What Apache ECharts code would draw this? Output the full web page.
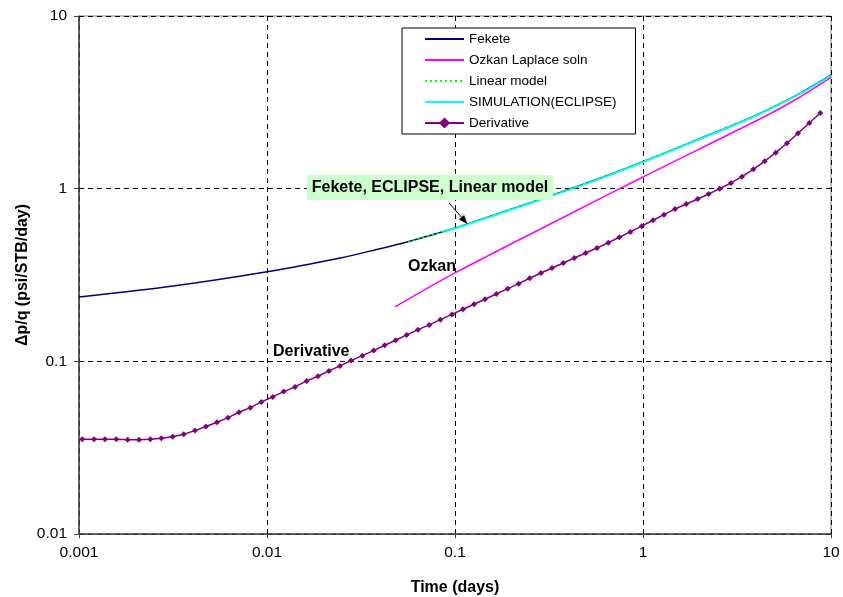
<!DOCTYPE html>
<html>
<head>
<meta charset="utf-8">
<script src="https://cdn.jsdelivr.net/npm/echarts@6/dist/echarts.min.js"></script>
<style>
  html, body { margin: 0; padding: 0; background: #fff; }
  #chart { width: 843px; height: 597px; }
</style>
</head>
<body>
<div id="chart"></div>
<script>
// Normalised pressure drop vs. time, log-log
const FONT = '"Liberation Sans", Arial, sans-serif';

const xTicks = [0.001, 0.01, 0.1, 1, 10];
const yTicks = [0.01, 0.1, 1, 10];

// Fekete analytical solution
const feketeTime = [0.001, 0.00324, 0.01, 0.02495, 0.03754, 0.05623, 0.1, 0.1884, 0.3321, 0.5906, 1, 1.93, 4.025, 6.84, 10];
const feketeVal  = [0.236, 0.2744, 0.3307, 0.3986, 0.4417, 0.4932, 0.5922, 0.7458, 0.9194, 1.149, 1.433, 1.914, 2.672, 3.567, 4.553];

// Ozkan Laplace-space solution
const ozkanTime = [0.04797, 0.1, 0.399, 1, 4.55, 6.84, 10];
const ozkanVal  = [0.2065, 0.325, 0.704, 1.169, 2.654, 3.396, 4.405];

// Linear model
const linearTime = [0.05623, 0.1, 0.1884, 0.3321, 0.5906, 1, 1.93, 4.025, 6.84, 10];
const linearVal  = [0.4932, 0.5922, 0.7458, 0.9194, 1.149, 1.433, 1.914, 2.672, 3.567, 4.553];

// Reservoir simulation (ECLIPSE)
const eclipseTime = [0.0849, 0.1, 0.1884, 0.3321, 0.5906, 1, 1.93, 4.025, 6.84, 10];
const eclipseVal  = [0.566, 0.589, 0.741, 0.913, 1.141, 1.424, 1.902, 2.655, 3.545, 4.525];

// Pressure derivative
const derivTime = [
  0.001041, 0.001202, 0.001375, 0.001579, 0.001816, 0.002085, 0.002395, 0.002741, 0.003151, 0.003604,
  0.00414, 0.004737, 0.00542, 0.006203, 0.007097, 0.00815, 0.009327, 0.01072, 0.01227, 0.01409,
  0.01626, 0.01867, 0.02137, 0.02445, 0.02797, 0.03213, 0.03694, 0.04228, 0.04836, 0.05534,
  0.06356, 0.07302, 0.08353, 0.09638, 0.1103, 0.1262, 0.1444, 0.1659, 0.1907, 0.2182,
  0.2496, 0.2867, 0.3281, 0.3769, 0.4311, 0.4956, 0.5693, 0.6537, 0.748, 0.8558,
  0.9842, 1.130, 1.293, 1.480, 1.700, 1.954, 2.236, 2.559, 2.938, 3.362,
  3.861, 4.439, 5.080, 5.835, 6.676, 7.666, 8.774
];
const derivVal = [
  0.0354, 0.0354, 0.0354, 0.0354, 0.0352, 0.0352, 0.0354, 0.0359, 0.0366, 0.0378,
  0.0397, 0.0419, 0.0444, 0.0472, 0.0507, 0.0539, 0.0582, 0.0622, 0.0668, 0.0711,
  0.077, 0.082, 0.088, 0.0941, 0.101, 0.1079, 0.1154, 0.124, 0.1325, 0.1422,
  0.1526, 0.1625, 0.1744, 0.1869, 0.2003, 0.2141, 0.2288, 0.2456, 0.2636, 0.2818,
  0.3028, 0.325, 0.3473, 0.3713, 0.3969, 0.4243, 0.4535, 0.4868, 0.5231, 0.5616,
  0.6064, 0.6562, 0.7071, 0.763, 0.8157, 0.8718, 0.9318, 1.0, 1.079, 1.173,
  1.295, 1.441, 1.616, 1.832, 2.093, 2.402, 2.744
];

const seriesNames = ['Fekete', 'Ozkan Laplace soln', 'Linear model', 'SIMULATION(ECLIPSE)', 'Derivative'];

const zip = (xs, ys) => xs.map((x, i) => [x, ys[i]]);
const fmt = v => String(parseFloat(Number(v).toPrecision(6)));

const chart = echarts.init(document.getElementById('chart'), null, { renderer: 'canvas' });

const dashed = { type: [5, 4], color: '#000', width: 1 };

// legend entries: plain lines for the curves, line + marker for the derivative
const legendData = seriesNames.map((name, i) =>
  i < 4 ? { name, itemStyle: { opacity: 0 } } : { name }
);

const option = {
  animation: false,
  backgroundColor: '#fff',
  textStyle: { fontFamily: FONT },
  grid: {
    left: 79, right: 12, top: 16, bottom: 63,
    containLabel: false, outerBoundsMode: 'none',
    show: true, borderColor: '#808080', borderWidth: 1, backgroundColor: '#fff'
  },
  xAxis: {
    type: 'log', logBase: 10,
    min: xTicks[0], max: xTicks[xTicks.length - 1],
    name: 'Time (days)', nameLocation: 'middle', nameGap: 46,
    nameTextStyle: { fontFamily: FONT, fontSize: 16, fontWeight: 'bold', color: '#000' },
    axisLine: { show: true, lineStyle: { color: '#404040', width: 1.5 } },
    axisTick: { show: true, inside: false, length: 4, lineStyle: { color: '#404040' } },
    axisLabel: { formatter: fmt, fontSize: 15.5, color: '#000', margin: 11, fontFamily: FONT },
    splitLine: { show: true, lineStyle: dashed },
    minorTick: { show: false }, minorSplitLine: { show: false }
  },
  yAxis: {
    type: 'log', logBase: 10,
    min: yTicks[0], max: yTicks[yTicks.length - 1],
    name: 'Δp/q (psi/STB/day)', nameLocation: 'middle', nameGap: 48, nameRotate: 90,
    nameMoveOverlap: false,
    nameTextStyle: { fontFamily: FONT, fontSize: 16, fontWeight: 'bold', color: '#000' },
    axisLine: { show: true, lineStyle: { color: '#404040', width: 1.5 } },
    axisTick: { show: true, inside: false, length: 5, lineStyle: { color: '#404040' } },
    axisLabel: { formatter: fmt, fontSize: 15.5, color: '#000', margin: 12, fontFamily: FONT },
    splitLine: { show: true, lineStyle: dashed },
    minorTick: { show: false }, minorSplitLine: { show: false }
  },
  legend: {
    data: legendData,
    orient: 'vertical',
    left: 402, top: 28,
    padding: [4, 19, 4, 22],
    itemWidth: 39, itemHeight: 14, itemGap: 7,
    backgroundColor: '#fff',
    borderColor: '#000', borderWidth: 1, borderRadius: 0,
    textStyle: { fontFamily: FONT, fontSize: 13.5, color: '#000' }
  },
  series: [
    {
      name: seriesNames[0], type: 'line', data: zip(feketeTime, feketeVal),
      smooth: 0.3, symbol: 'none', lineStyle: { color: '#000080', width: 1.5 },
      itemStyle: { color: '#000080' }, z: 2
    },
    {
      name: seriesNames[1], type: 'line', data: zip(ozkanTime, ozkanVal),
      smooth: 0.3, symbol: 'none', lineStyle: { color: '#ff00ff', width: 1.5 },
      itemStyle: { color: '#ff00ff' }, z: 3
    },
    {
      name: seriesNames[2], type: 'line', data: zip(linearTime, linearVal),
      smooth: 0.3, symbol: 'none', lineStyle: { color: '#00ff00', width: 2, type: [2, 3] },
      itemStyle: { color: '#00ff00' }, z: 4
    },
    {
      name: seriesNames[3], type: 'line', data: zip(eclipseTime, eclipseVal),
      smooth: 0.3, symbol: 'none', lineStyle: { color: '#00ffff', width: 1.8 },
      itemStyle: { color: '#00ffff' }, z: 5
    },
    {
      name: seriesNames[4], type: 'line', data: zip(derivTime, derivVal),
      symbol: 'diamond', symbolSize: 6, showSymbol: true,
      lineStyle: { color: '#800080', width: 1.5 },
      itemStyle: { color: '#800080' }, z: 6
    }
  ]
};

chart.setOption(option);

// Callout labels and the arrow that points at the overlapping curves
const tip = [467.5, 224];
const tail = [449, 203];
const dx = tip[0] - tail[0], dy = tip[1] - tail[1];
const len = Math.hypot(dx, dy);
const ux = dx / len, uy = dy / len;
const headLen = 9, headHalf = 3.5;
const base = [tip[0] - ux * headLen, tip[1] - uy * headLen];

chart.setOption({
  graphic: [
    {
      type: 'rect', z: 100,
      shape: { x: 307, y: 175, width: 246, height: 25 },
      style: { fill: '#ccffcc' }
    },
    {
      type: 'text', z: 101, x: 430, y: 188,
      style: {
        text: 'Fekete, ECLIPSE, Linear model', fill: '#000',
        font: 'bold 16px ' + FONT, textAlign: 'center', textVerticalAlign: 'middle'
      }
    },
    {
      type: 'line', z: 101,
      shape: { x1: tail[0], y1: tail[1], x2: base[0], y2: base[1] },
      style: { stroke: '#000', lineWidth: 1 }
    },
    {
      type: 'polygon', z: 101,
      shape: {
        points: [
          tip,
          [base[0] - uy * headHalf, base[1] + ux * headHalf],
          [base[0] + uy * headHalf, base[1] - ux * headHalf]
        ]
      },
      style: { fill: '#000' }
    },
    {
      type: 'text', z: 101, x: 408, y: 267,
      style: {
        text: 'Ozkan', fill: '#000', font: 'bold 16px ' + FONT,
        textAlign: 'left', textVerticalAlign: 'middle'
      }
    },
    {
      type: 'text', z: 101, x: 273, y: 352,
      style: {
        text: 'Derivative', fill: '#000', font: 'bold 16px ' + FONT,
        textAlign: 'left', textVerticalAlign: 'middle'
      }
    }
  ]
});
</script>
</body>
</html>
